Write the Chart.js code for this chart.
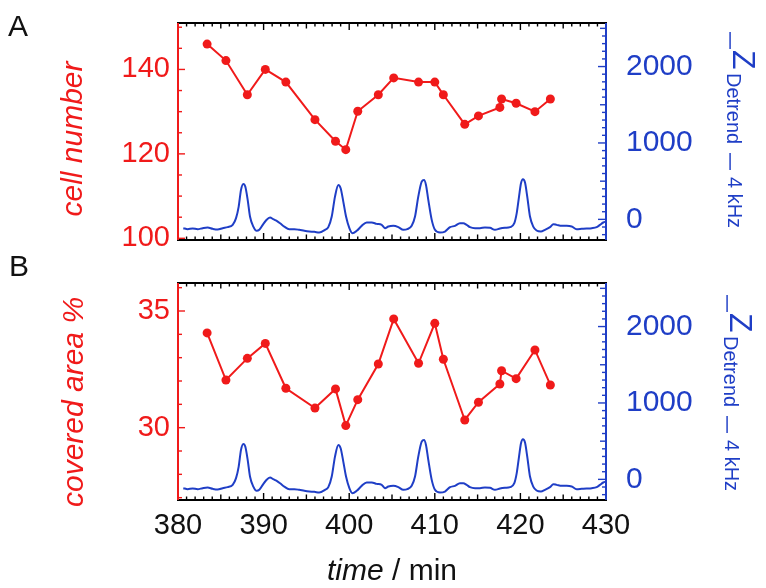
<!DOCTYPE html>
<html><head><meta charset="utf-8">
<script src="https://cdn.jsdelivr.net/npm/chart.js@4.4.0/dist/chart.umd.min.js"></script>
<style>
html,body{margin:0;padding:0;background:#fff;}
#wrap{position:relative;width:766px;height:588px;overflow:hidden;}
#cA{position:absolute;left:0;top:0;}
#cB{position:absolute;left:0;top:250px;}
</style></head><body>
<div id="wrap"><canvas id="cA" width="766" height="250"></canvas><canvas id="cB" width="766" height="338"></canvas></div>
<script>
// ---- data ----
const sampleTime = [383.4, 385.6, 388.1, 390.2, 392.6, 396.0, 398.4, 399.6, 401.0, 403.4, 405.2, 408.1, 410.0, 411.0, 413.5, 415.1, 417.6, 417.8, 419.5, 421.7, 423.5];
const cellNumber = [146, 142.1, 134, 140, 137, 128.1, 123, 121, 130.1, 134, 138, 137, 137, 134, 127, 129, 131, 133, 132, 130, 133];
const coveredArea = [34.06, 32.04, 32.97, 33.61, 31.69, 30.84, 31.66, 30.09, 31.2, 32.73, 34.66, 32.76, 34.47, 32.93, 30.33, 31.09, 31.87, 32.44, 32.1, 33.33, 31.83];
const zTime = [380.62,381.13,381.71,382.29,382.88,383.46,384.05,384.63,385.22,385.8,386.39,386.78,387.09,387.36,387.63,387.86,388.14,388.41,388.8,389.19,389.5,389.9,390.28,390.75,391.13,391.53,391.92,392.42,393.0,393.59,394.17,394.76,395.34,395.93,396.5,397.17,397.56,397.96,398.34,398.73,399.0,399.31,399.63,400.02,400.37,400.88,401.46,402.04,402.63,403.21,403.8,404.18,404.57,405.15,405.74,406.32,406.79,407.3,407.69,408.07,408.47,408.74,408.97,409.24,409.64,410.02,410.61,411.19,411.78,412.36,412.94,413.33,413.72,414.11,414.7,415.28,415.86,416.45,417.03,417.62,418.2,418.79,419.29,419.57,419.84,420.07,420.3,420.54,420.8,421.12,421.5,421.89,422.4,422.87,423.46,423.85,424.24,424.82,425.41,425.99,426.57,427.16,427.74,428.33,428.91,429.3,429.68,430.0];
const zDetrend = [-115,-128,-120,-128,-115,-107,-124,-133,-115,-102,-72,16,167,386,464,429,255,37,-94,-150,-137,-72,-15,24,2,-20,-50,-94,-128,-128,-137,-150,-159,-163,-172,-137,-102,37,298,451,407,233,37,-115,-181,-150,-85,-41,-41,-59,-72,-115,-94,-85,-102,-137,-128,-85,37,298,494,516,451,255,-7,-137,-172,-159,-102,-85,-50,-50,-72,-102,-115,-115,-107,-111,-137,-120,-111,-102,-50,81,298,473,525,481,298,37,-94,-146,-159,-137,-102,-63,-72,-85,-85,-94,-128,-124,-120,-115,-102,-72,-41,-30];
const xTicks = [380, 390, 400, 410, 420, 430];
const cellTicks = [100, 120, 140];
const areaTicks = [30, 35];
const zTicks = [0, 1000, 2000];

// ---- style ----
const RED = '#f01a1a';
const BLUE = '#1f3ec6';
const FONT = "'Liberation Sans', Arial, sans-serif";

function framePlugin(leftMinor, leftMajor) {
  return {
    id: 'frame',
    afterDraw(chart) {
      const ctx = chart.ctx, a = chart.chartArea;
      const x = chart.scales.x, yL = chart.scales.yL, yR = chart.scales.yR;
      ctx.save();
      ctx.lineWidth = 1.4;
      const seg = (x1, y1, x2, y2) => { ctx.beginPath(); ctx.moveTo(x1, y1); ctx.lineTo(x2, y2); ctx.stroke(); };
      ctx.strokeStyle = '#000';
      for (let v = x.min; v <= x.max + 1e-9; v += 1) {
        const px = x.getPixelForValue(v);
        const r = Math.round(v);
        const len = r % 10 === 0 ? 7 : (r % 5 === 0 ? 5.5 : 3.5);
        seg(px, a.bottom, px, a.bottom - len);
        seg(px, a.top, px, a.top + len);
      }
      ctx.strokeStyle = RED;
      const l0 = Math.ceil(yL.min / leftMinor) * leftMinor;
      for (let v = l0; v <= yL.max + 1e-9; v += leftMinor) {
        const py = yL.getPixelForValue(v);
        const isMaj = Math.abs(v / leftMajor - Math.round(v / leftMajor)) < 1e-6;
        seg(a.left, py, a.left + (isMaj ? 7 : 4), py);
      }
      ctx.strokeStyle = BLUE;
      const r0 = Math.ceil(yR.min / 100) * 100;
      for (let v = r0; v <= yR.max + 1e-9; v += 100) {
        const py = yR.getPixelForValue(v);
        const len = v % 1000 === 0 ? 8 : (v % 500 === 0 ? 6 : 4);
        seg(a.right, py, a.right - len, py);
      }
      ctx.lineWidth = 2;
      ctx.strokeStyle = '#000';
      seg(a.left - 1, a.top, a.right + 1, a.top);
      seg(a.left - 1, a.bottom, a.right + 1, a.bottom);
      ctx.strokeStyle = RED;
      seg(a.left, a.top, a.left, a.bottom);
      ctx.strokeStyle = BLUE;
      seg(a.right, a.top, a.right, a.bottom);
      ctx.restore();
    }
  };
}

function textPlugin(cfg) {
  return {
    id: 'texts',
    afterDraw(chart) {
      const ctx = chart.ctx;
      ctx.save();
      ctx.fillStyle = '#111';
      ctx.font = `30px ${FONT}`;
      ctx.textAlign = 'left'; ctx.textBaseline = 'alphabetic';
      ctx.fillText(cfg.letter, cfg.letterX, cfg.letterY);
      ctx.save();
      ctx.translate(cfg.lx, cfg.ly);
      ctx.rotate(-Math.PI / 2);
      ctx.fillStyle = RED;
      ctx.font = `italic 30px ${FONT}`;
      ctx.textAlign = 'center';
      ctx.fillText(cfg.leftTitle, 0, 0);
      ctx.restore();
      ctx.fillStyle = BLUE;
      const rx = cfg.rx;
      ctx.font = `18px ${FONT}`;
      ctx.textAlign = 'center'; ctx.textBaseline = 'middle';
      ctx.fillText('|', rx + 2, cfg.ry + 8);
      ctx.fillText('|', rx + 2, cfg.ry + 129);
      ctx.textAlign = 'left'; ctx.textBaseline = 'alphabetic';
      const rot = (txt, font, bx, by) => {
        ctx.save(); ctx.translate(bx, by); ctx.rotate(Math.PI / 2);
        ctx.font = font; ctx.fillText(txt, 0, 0); ctx.restore();
      };
      rot('Z', `32px ${FONT}`, rx + 5, cfg.ry + 18);
      rot('Detrend', `20px ${FONT}`, rx - 1, cfg.ry + 41);
      rot('4 kHz', `20px ${FONT}`, rx, cfg.ry + 145);
      if (cfg.xTitle) {
        ctx.fillStyle = '#111';
        ctx.font = `italic 30px ${FONT}`;
        const w1 = ctx.measureText('time').width;
        ctx.font = `30px ${FONT}`;
        const w2 = ctx.measureText(' / min').width;
        const x0 = cfg.xtX - (w1 + w2) / 2;
        ctx.font = `italic 30px ${FONT}`;
        ctx.fillText('time', x0, cfg.xtY);
        ctx.font = `30px ${FONT}`;
        ctx.fillText(' / min', x0 + w1, cfg.xtY);
      }
      ctx.restore();
    }
  };
}

function noPad(s) { s.paddingTop = 0; s.paddingBottom = 0; s.paddingLeft = 0; s.paddingRight = 0; }

function makeChart(canvas, redValues, lMin, lMax, lTicks, lMinor, lMajor, showX, topPad, plotBottom, texts) {
  const H = canvas.height;
  return new Chart(canvas, {
    type: 'scatter',
    data: {
      datasets: [
        {
          data: sampleTime.map((t, i) => ({ x: t, y: redValues[i] })),
          yAxisID: 'yL', showLine: true,
          borderColor: RED, backgroundColor: RED, borderWidth: 2,
          pointRadius: 4.5, pointBackgroundColor: RED, pointBorderWidth: 0,
          order: 1
        },
        {
          data: zTime.map((t, i) => ({ x: t, y: zDetrend[i] })),
          yAxisID: 'yR', showLine: true,
          borderColor: BLUE, borderWidth: 2, pointRadius: 0,
          cubicInterpolationMode: 'monotone', order: 2
        }
      ]
    },
    options: {
      responsive: false, animation: false,
      layout: { padding: { top: topPad, left: 0, right: 0, bottom: 0 } },
      plugins: { legend: { display: false }, tooltip: { enabled: false } },
      scales: {
        x: {
          type: 'linear', position: 'bottom', min: 380, max: 430,
          grid: { display: false, drawTicks: false }, border: { display: false },
          afterBuildTicks: s => { s.ticks = xTicks.map(v => ({ value: v })); },
          ticks: { display: showX, color: '#111', font: { family: FONT, size: 29 }, padding: 9, maxRotation: 0, autoSkip: false,
                   callback: v => String(v) },
          afterFit: s => { s.height = H - plotBottom; noPad(s); }
        },
        yL: {
          type: 'linear', position: 'left', min: lMin, max: lMax,
          grid: { display: false, drawTicks: false }, border: { display: false },
          afterBuildTicks: s => { s.ticks = lTicks.map(v => ({ value: v })); },
          ticks: { color: RED, font: { family: FONT, size: 29 }, padding: 8, callback: v => String(v) },
          afterFit: s => { s.width = 178; noPad(s); }
        },
        yR: {
          type: 'linear', position: 'right', min: -270, max: 2570,
          grid: { display: false, drawTicks: false }, border: { display: false },
          afterBuildTicks: s => { s.ticks = zTicks.map(v => ({ value: v })); },
          ticks: { color: BLUE, font: { family: FONT, size: 30 }, padding: 20, callback: v => String(v) },
          afterFit: s => { s.width = 160; noPad(s); }
        }
      }
    },
    plugins: [framePlugin(lMinor, lMajor), textPlugin(texts)]
  });
}

makeChart(document.getElementById('cA'), cellNumber, 99.6, 151, cellTicks, 5, 20, false, 23, 240,
  { letter: 'A', letterX: 8, letterY: 36, leftTitle: 'cell number', lx: 82, ly: 139, rx: 728, ry: 32 });
makeChart(document.getElementById('cB'), coveredArea, 26.9, 36.2, areaTicks, 1, 5, true, 33, 250,
  { letter: 'B', letterX: 9, letterY: 26, leftTitle: 'covered area %', lx: 83, ly: 152, rx: 725, ry: 45,
    xTitle: true, xtX: 392, xtY: 330 });
</script>
</body></html>
